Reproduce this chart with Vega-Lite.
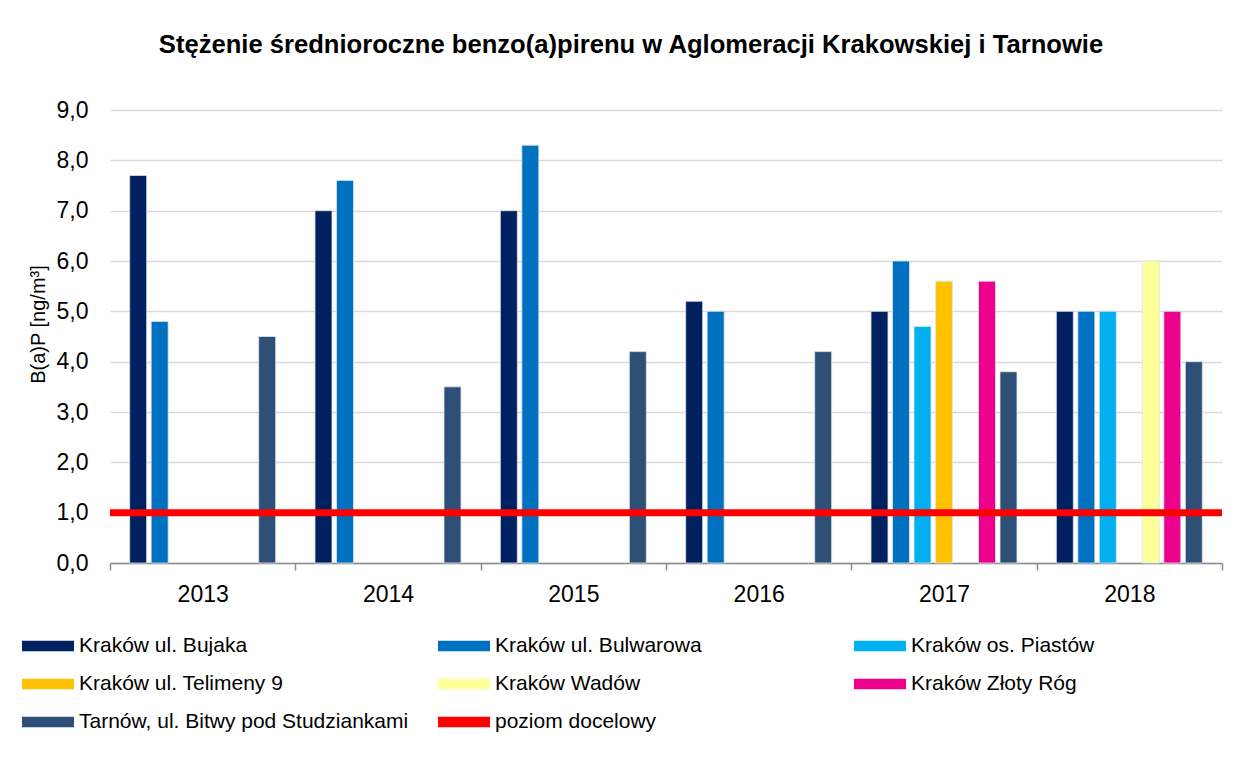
{
  "$schema": "https://vega.github.io/schema/vega-lite/v6.json",
  "width": 1112,
  "height": 453,
  "autosize": {"type": "none"},
  "padding": {"left": 110, "top": 110, "right": 29, "bottom": 197},
  "background": "#ffffff",
  "config": {"font": "Liberation Sans", "view": {"stroke": null}},
  "title": {
    "text": "Stężenie średnioroczne benzo(a)pirenu w Aglomeracji Krakowskiej i Tarnowie",
    "fontSize": 25.6,
    "fontWeight": "bold",
    "color": "#000000",
    "anchor": "middle",
    "dx": -35,
    "offset": 40
  },
  "layer": [
    {
      "data": {
        "values": [
          {"year": "2013", "series": "Kraków ul. Bujaka", "value": 7.7},
          {"year": "2013", "series": "Kraków ul. Bulwarowa", "value": 4.8},
          {"year": "2013", "series": "Tarnów, ul. Bitwy pod Studziankami", "value": 4.5},
          {"year": "2014", "series": "Kraków ul. Bujaka", "value": 7.0},
          {"year": "2014", "series": "Kraków ul. Bulwarowa", "value": 7.6},
          {"year": "2014", "series": "Tarnów, ul. Bitwy pod Studziankami", "value": 3.5},
          {"year": "2015", "series": "Kraków ul. Bujaka", "value": 7.0},
          {"year": "2015", "series": "Kraków ul. Bulwarowa", "value": 8.3},
          {"year": "2015", "series": "Tarnów, ul. Bitwy pod Studziankami", "value": 4.2},
          {"year": "2016", "series": "Kraków ul. Bujaka", "value": 5.2},
          {"year": "2016", "series": "Kraków ul. Bulwarowa", "value": 5.0},
          {"year": "2016", "series": "Tarnów, ul. Bitwy pod Studziankami", "value": 4.2},
          {"year": "2017", "series": "Kraków ul. Bujaka", "value": 5.0},
          {"year": "2017", "series": "Kraków ul. Bulwarowa", "value": 6.0},
          {"year": "2017", "series": "Kraków os. Piastów", "value": 4.7},
          {"year": "2017", "series": "Kraków ul. Telimeny 9", "value": 5.6},
          {"year": "2017", "series": "Kraków Złoty Róg", "value": 5.6},
          {"year": "2017", "series": "Tarnów, ul. Bitwy pod Studziankami", "value": 3.8},
          {"year": "2018", "series": "Kraków ul. Bujaka", "value": 5.0},
          {"year": "2018", "series": "Kraków ul. Bulwarowa", "value": 5.0},
          {"year": "2018", "series": "Kraków os. Piastów", "value": 5.0},
          {"year": "2018", "series": "Kraków Wadów", "value": 6.0},
          {"year": "2018", "series": "Kraków Złoty Róg", "value": 5.0},
          {"year": "2018", "series": "Tarnów, ul. Bitwy pod Studziankami", "value": 4.0}
        ]
      },
      "mark": {"type": "bar", "stroke": "#dde4ee", "strokeWidth": 0.8},
      "encoding": {
        "x": {
          "field": "year",
          "type": "nominal",
          "scale": {"paddingInner": 0, "paddingOuter": 0},
          "axis": {
            "title": null,
            "labelAngle": 0,
            "labelFontSize": 23,
            "labelColor": "#000000",
            "labelPadding": 13,
            "domainColor": "#8c8c8c",
            "domainWidth": 1.5,
            "tickColor": "#8c8c8c",
            "tickWidth": 1.5,
            "tickSize": 7,
            "tickBand": "extent",
            "grid": false
          }
        },
        "xOffset": {
          "field": "series",
          "type": "nominal",
          "scale": {
            "domain": ["Kraków ul. Bujaka", "Kraków ul. Bulwarowa", "Kraków os. Piastów", "Kraków ul. Telimeny 9", "Kraków Wadów", "Kraków Złoty Róg", "Tarnów, ul. Bitwy pod Studziankami"],
            "paddingInner": 0.21,
            "paddingOuter": 0.915
          }
        },
        "y": {
          "field": "value",
          "type": "quantitative",
          "scale": {"domain": [0, 9], "nice": false},
          "axis": {
            "title": "B(a)P [ng/m³]",
            "titleFontSize": 20,
            "titleFontWeight": "normal",
            "titleColor": "#000000",
            "titleX": -72,
            "titleY": 214,
            "titleAngle": -90,
            "titleAlign": "center",
            "titleBaseline": "middle",
            "values": [0, 1, 2, 3, 4, 5, 6, 7, 8, 9],
            "labelExpr": "replace(format(datum.value, '.1f'), '.', ',')",
            "labelFontSize": 23,
            "labelColor": "#000000",
            "labelPadding": 22,
            "ticks": false,
            "tickSize": 0,
            "domain": false,
            "gridColor": "#d9d9d9",
            "gridWidth": 1.5
          }
        },
        "color": {
          "field": "series",
          "type": "nominal",
          "scale": {
            "domain": ["Kraków ul. Bujaka", "Kraków ul. Bulwarowa", "Kraków os. Piastów", "Kraków ul. Telimeny 9", "Kraków Wadów", "Kraków Złoty Róg", "Tarnów, ul. Bitwy pod Studziankami", "poziom docelowy"],
            "range": ["#002060", "#0070c0", "#00b0f0", "#ffc000", "#ffff99", "#ec008c", "#2e5077", "#ff0000"]
          },
          "legend": {
            "title": null,
            "orient": "none",
            "direction": "horizontal",
            "legendX": -75,
            "legendY": 523,
            "columns": 3,
            "gridAlign": "all",
            "columnPadding": 29,
            "rowPadding": 15,
            "symbolType": "M-2,-0.4H2V0.4H-2Z",
            "symbolSize": 676,
            "symbolStrokeWidth": 0,
            "labelFontSize": 21,
            "labelColor": "#000000",
            "labelOffset": 18,
            "labelLimit": 600,
            "encode": {
              "symbols": {"update": {"fill": {"scale": "color", "field": "value"}, "opacity": {"value": 1}}}
            }
          }
        }
      }
    },
    {
      "data": {"values": [{"series": "poziom docelowy", "value": 1}]},
      "mark": {"type": "rule", "strokeWidth": 7},
      "encoding": {
        "y": {"field": "value", "type": "quantitative"},
        "color": {"field": "series", "type": "nominal"}
      }
    }
  ]
}
